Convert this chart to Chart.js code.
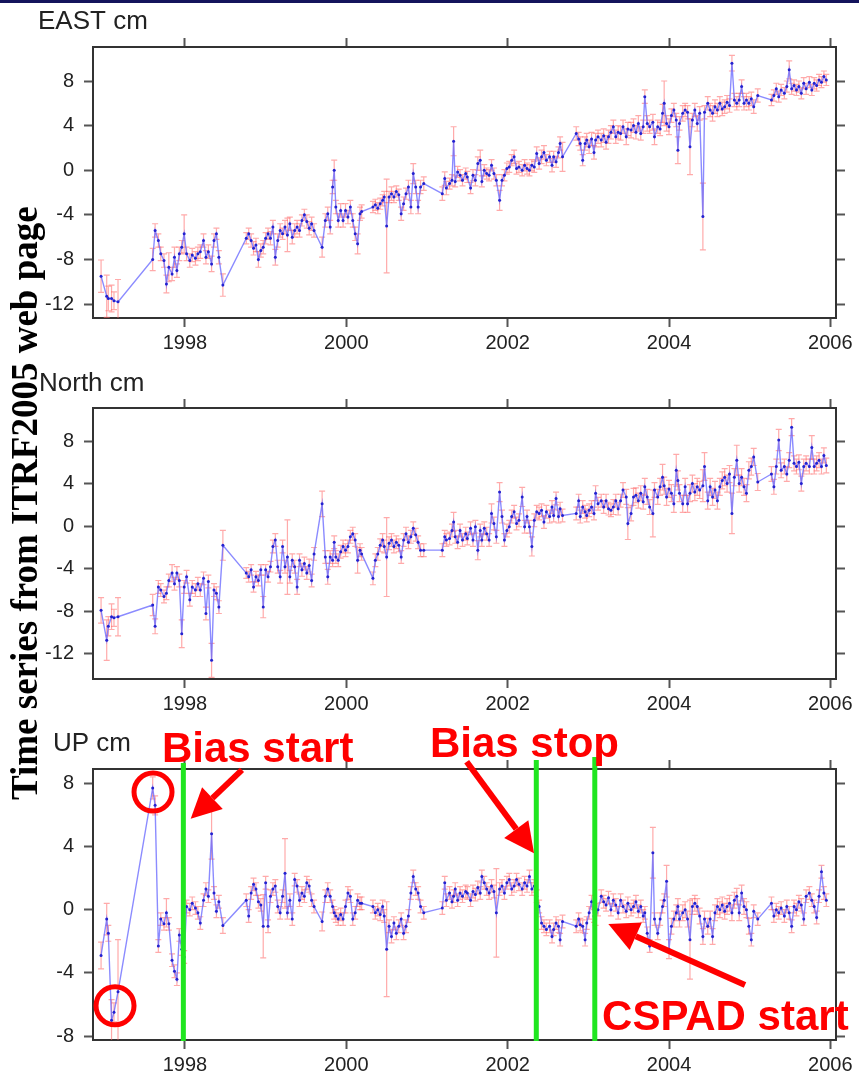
<!DOCTYPE html>
<html>
<head>
<meta charset="utf-8">
<title>ITRF2005 time series</title>
<script src="https://cdn.jsdelivr.net/npm/chart.js@4.4.1/dist/chart.umd.min.js"></script>
<style>
  html, body { margin: 0; padding: 0; background: #fff; }
  #page { position: relative; width: 859px; height: 1079px; overflow: hidden; background: #fff; }
  #page canvas { position: absolute; left: 0; }
  #topRule { position: absolute; left: 0; top: 0; width: 859px; height: 3px; background: #14145c; }
  #sideTitle {
    position: absolute; left: 6px; top: 800px;
    transform: rotate(-90deg); transform-origin: left top;
    white-space: nowrap; color: #000;
    font: bold 37px "Liberation Serif", "Times New Roman", serif; line-height: 37px;
  }
</style>
</head>
<body>
<div id="page">
  <canvas id="eastChart" width="859" height="360" style="top:0"></canvas>
  <canvas id="northChart" width="859" height="360" style="top:360px"></canvas>
  <canvas id="upChart" width="859" height="359" style="top:720px"></canvas>
  <div id="topRule"></div>
  <div id="sideTitle">Time series from ITRF2005 web page</div>
</div>
<script>
// epochs (decimal year), one line per data segment
const epochs = [
    1996.96, 1997.03, 1997.05, 1997.09, 1997.12, 1997.17,
    1997.60, 1997.63, 1997.67, 1997.70, 1997.74, 1997.77, 1997.80, 1997.84, 1997.87, 1997.90, 1997.93, 1997.96, 1997.99, 1998.02, 1998.06, 1998.09, 1998.13, 1998.16, 1998.19, 1998.23, 1998.26, 1998.29, 1998.33, 1998.36, 1998.39, 1998.42, 1998.47,
    1998.76, 1998.79, 1998.82, 1998.85, 1998.88, 1998.91, 1998.94, 1998.97,
    1999.00, 1999.03, 1999.06, 1999.09, 1999.12, 1999.15, 1999.18, 1999.21, 1999.24, 1999.27, 1999.30, 1999.33, 1999.36, 1999.39, 1999.42, 1999.45, 1999.48, 1999.51, 1999.54, 1999.57, 1999.60,
    1999.70, 1999.74, 1999.77, 1999.80, 1999.83, 1999.85, 1999.87, 1999.90, 1999.93, 1999.96, 1999.99,
    2000.02, 2000.05, 2000.08, 2000.11, 2000.14, 2000.17, 2000.19,
    2000.33, 2000.36, 2000.39, 2000.42, 2000.45, 2000.47, 2000.50, 2000.53, 2000.56, 2000.59, 2000.62, 2000.65, 2000.68, 2000.71, 2000.74, 2000.77, 2000.80, 2000.83, 2000.86, 2000.89, 2000.92, 2000.96,
    2001.19, 2001.22, 2001.24, 2001.28, 2001.31, 2001.33, 2001.35, 2001.38, 2001.41, 2001.44, 2001.48, 2001.50, 2001.54, 2001.57, 2001.60, 2001.63, 2001.66, 2001.68, 2001.71, 2001.74, 2001.77, 2001.80, 2001.83, 2001.86, 2001.90, 2001.93, 2001.96, 2001.99,
    2002.02, 2002.05, 2002.08, 2002.11, 2002.14, 2002.18, 2002.21, 2002.24, 2002.27, 2002.30, 2002.33, 2002.36, 2002.39, 2002.42, 2002.45, 2002.48, 2002.52, 2002.55, 2002.57, 2002.60, 2002.63, 2002.65, 2002.68,
    2002.85, 2002.88, 2002.90, 2002.93, 2002.96, 2002.98,
    2003.01, 2003.04, 2003.07, 2003.09, 2003.12, 2003.16, 2003.19, 2003.22, 2003.25, 2003.28, 2003.31, 2003.34, 2003.37, 2003.40, 2003.43, 2003.47, 2003.49, 2003.53, 2003.56, 2003.59, 2003.62, 2003.65, 2003.68, 2003.70, 2003.73, 2003.76, 2003.80, 2003.82, 2003.86, 2003.89, 2003.92, 2003.94, 2003.97,
    2004.00, 2004.03, 2004.06, 2004.09, 2004.11, 2004.13, 2004.17, 2004.20, 2004.23, 2004.26, 2004.29, 2004.32, 2004.35, 2004.38, 2004.42, 2004.44, 2004.48, 2004.51, 2004.54, 2004.57, 2004.60, 2004.63, 2004.66, 2004.69, 2004.72, 2004.75, 2004.78, 2004.81, 2004.84, 2004.87, 2004.90, 2004.93, 2004.96, 2004.99,
    2005.02, 2005.05, 2005.10,
    2005.27, 2005.30, 2005.33, 2005.36, 2005.39, 2005.43, 2005.46, 2005.49, 2005.52, 2005.55, 2005.58, 2005.61, 2005.64, 2005.67, 2005.70, 2005.74, 2005.77, 2005.80, 2005.83, 2005.86, 2005.89, 2005.92, 2005.95
];

const eastCm = [
    -9.5, -11.3, -11.5, -11.5, -11.7, -11.8,
    -8.0, -5.4, -6.3, -7.5, -8.1, -10.2, -8.7, -9.3, -7.8, -9.0, -7.5, -6.9, -5.7, -7.5, -8.1, -7.6, -7.9, -7.5, -7.3, -6.3, -7.8, -7.3, -8.4, -6.3, -5.7, -7.8, -10.3,
    -6.1, -5.7, -6.3, -7.0, -6.7, -8.0, -7.2, -6.9,
    -6.1, -5.7, -6.1, -5.1, -7.8, -6.3, -5.4, -5.7, -5.1, -5.8, -4.8, -6.0, -5.4, -5.1, -5.4, -4.5, -4.0, -4.6, -5.2, -4.8, -5.4,
    -6.9, -4.5, -3.9, -5.1, -1.5, 0.0, -3.3, -4.5, -3.6, -4.5, -3.6,
    -4.2, -3.3, -4.5, -5.7, -6.6, -3.9, -3.7,
    -3.3, -3.1, -3.4, -3.0, -2.7, -2.4, -5.0, -2.4, -2.1, -2.4, -1.9, -2.2, -3.9, -3.0, -2.1, -1.5, -3.3, -0.3, -1.5, -3.3, -1.5, -1.2,
    -2.1, -0.75, -1.6, -1.2, -0.9, 2.6, -1.0, -0.15, -0.45, -0.9, -0.3, -0.6, -1.6, -0.45, -0.9, 0.6, 0.9, -1.0, 0.0, -0.3, -0.45, 0.45, -0.3, -0.9, -2.7, -0.9, -0.45, 0.15,
    0.3, 0.9, 1.2, 0.15, 0.3, 0.0, 0.45, 0.15, 0.0, 0.45, 0.3, 1.5, 0.6, 1.2, 1.6, 0.9, 1.2, 0.45, 1.2, 0.75, 1.6, 2.4, 1.2,
    3.3, 2.8, 2.4, 0.9, 2.4, 2.7,
    2.1, 2.8, 1.6, 2.7, 3.0, 2.7, 3.1, 2.5, 3.0, 3.4, 3.9, 3.0, 3.4, 3.3, 3.9, 3.0, 3.7, 3.6, 4.0, 3.4, 4.2, 3.3, 3.9, 6.6, 4.2, 3.9, 4.3, 3.0, 3.9, 3.7, 5.1, 6.0, 4.2,
    3.9, 4.9, 5.4, 4.5, 1.8, 4.2, 5.1, 5.4, 5.2, 2.1, 4.5, 5.4, 4.2, 5.1, -4.15, 5.2, 6.0, 5.4, 5.1, 5.7, 5.4, 6.0, 5.5, 5.7, 6.1, 5.8, 9.6, 6.3, 6.0, 6.3, 7.5, 6.0, 6.3, 6.0,
    6.4, 5.7, 6.7,
    6.3, 6.7, 7.3, 6.6, 7.2, 6.9, 7.5, 9.0, 7.3, 7.6, 7.2, 7.5, 6.9, 7.8, 7.3, 7.9, 7.2, 7.8, 7.6, 8.1, 7.9, 8.4, 8.1
];

const northCm = [
    -7.9, -10.7, -9.4, -8.5, -8.6, -8.5,
    -7.4, -9.4, -5.7, -6.0, -6.6, -6.3, -5.1, -4.4, -5.4, -4.4, -5.1, -10.1, -5.7, -4.75, -6.9, -5.7, -6.0, -5.4, -6.0, -4.9, -8.2, -5.2, -12.6, -6.0, -6.3, -7.6, -1.8,
    -4.4, -4.75, -4.1, -5.7, -4.75, -5.1, -4.1, -7.6,
    -4.1, -4.75, -3.8, -1.9, -1.3, -3.8, -4.75, -1.9, -3.8, -2.9, -4.75, -3.2, -3.8, -5.7, -3.2, -4.1, -3.5, -4.4, -3.7, -5.1, -2.6,
    2.1, -2.9, -4.75, -2.9, -3.2, -1.5, -2.9, -3.2, -2.4, -1.9, -2.25,
    -1.9, -1.0, -0.7, -1.3, -3.2, -2.25, -2.6,
    -4.9, -3.2, -2.6, -1.8, -1.3, -1.9, -2.9, -1.6, -1.3, -1.9, -1.5, -1.8, -2.9, -1.3, -0.7, -1.5, -1.0, -0.2, -0.8, -1.5, -2.25, -2.25,
    -2.25, -1.0, -1.3, -1.15, -0.4, 0.4, -1.0, -1.5, -0.4, -1.3, -0.7, -1.15, -0.2, -1.3, -0.05, -2.25, -0.4, -1.3, -0.2, -0.7, -1.3, 1.2, 0.25, -1.0, 3.2, 0.9, -1.3, -0.4,
    -0.05, 0.9, 1.35, 0.25, 0.55, 2.75, -0.05, 0.9, -0.05, -1.9, 0.55, 1.35, 1.2, 1.5, 0.4, 1.35, 0.9, 1.8, 1.0, 2.6, 0.9, 1.65, 1.0,
    1.2, 2.4, 0.9, 1.8, 1.35, 1.0,
    1.5, 1.8, 1.2, 3.1, 2.1, 2.4, 1.8, 2.4, 1.65, 1.5, 1.8, 2.4, 1.65, 2.4, 3.4, 2.75, 0.25, 1.2, 2.75, 2.9, 2.4, 3.1, 2.3, 3.7, 2.75, 1.8, 1.2, 3.4, 2.75, 3.7, 4.6, 3.8, 2.75,
    3.5, 3.1, 2.1, 5.25, 4.3, 3.1, 2.1, 3.7, 2.1, 3.1, 4.0, 3.2, 3.7, 3.4, 3.8, 5.6, 2.4, 3.7, 2.75, 3.4, 2.4, 3.7, 4.3, 4.6, 4.0, 4.9, 1.2, 4.6, 6.2, 4.0, 4.6, 3.7, 3.1, 5.25,
    5.6, 6.5, 4.15,
    4.9, 3.7, 5.6, 8.1, 5.25, 5.6, 4.9, 6.2, 9.3, 5.9, 5.6, 6.0, 4.0, 5.6, 5.9, 5.6, 7.4, 5.6, 5.9, 6.2, 5.6, 6.65, 5.7
];

const upCm = [
    -2.9, -0.6, -1.5, -7.0, -6.5, -5.2,
    7.7, 6.6, -2.3, -0.6, -0.9, -0.2, -0.9, -3.2, -3.9, -4.4, -1.6, -2.5, -3.0, 0.2, 0.0, 0.4, 0.1, -0.2, -0.85, 0.6, 1.3, 0.85, 4.8, 1.05, -0.1, 0.5, -1.0,
    0.6, -0.4, 1.05, 1.6, 1.3, 0.5, 0.3, -1.05,
    1.7, -1.05, 0.85, 1.3, 1.5, 0.2, -0.2, 0.85, 2.3, -0.2, 0.6, -0.6, 1.9, 1.5, 0.6, 1.05, 0.85, 1.7, 1.5, 0.6, 0.2,
    -0.75, 0.85, 1.3, 0.85, 0.2, -0.2, -0.4, -0.6, -0.3, -0.6, 0.2,
    1.05, 0.85, -0.6, -0.2, 0.6, 0.4, 0.4,
    0.2, -0.2, 0.0, -0.3, 0.2, -0.4, -2.5, -1.05, -1.7, -0.85, -1.5, -1.05, -0.6, -1.5, -1.05, -0.4, 1.05, 2.1, 1.3, 1.05, 0.2, -0.2,
    0.1, 1.7, 0.6, 1.05, 0.5, 0.85, 1.3, 0.6, 1.05, 0.85, 1.15, 1.05, 0.6, 1.15, 0.95, 1.4, 1.05, 2.1, 1.7, 1.3, 1.05, 1.5, 1.15, -0.2, 1.3, 1.5, 1.05, 1.7,
    1.9, 1.3, 1.5, 1.9, 1.6, 1.3, 1.7, 1.5, 2.1, 1.3, 1.5, 0.85, 0.2, -0.85, -1.05, -1.25, -1.05, -1.7, -1.25, -0.85, -1.05, -1.9, -0.75,
    -1.05, -0.6, -0.95, -1.05, -1.9, -0.85,
    -0.2, 0.5, -0.4, -0.6, 0.0, 0.85, 0.5, 0.3, 0.75, 0.0, 0.6, 0.3, -0.2, 0.6, 0.2, -0.1, 0.4, 0.0, 0.2, 0.5, -0.1, 0.2, -0.4, -0.2, -1.5, -2.3, 3.6, -0.6, -1.5, -0.6, 0.2, 0.6, 1.8,
    -2.5, -1.05, -0.6, -0.2, 0.2, -0.6, -0.2, 0.0, -0.6, -1.9, 0.2, 0.4, 0.2, -0.4, -1.7, -0.6, -1.05, -0.6, -1.7, -0.2, 0.2, 0.0, 0.3, -0.1, 0.2, 0.4, -0.2, 0.6, 0.85, -0.2, 1.05, 0.2, 0.0, -1.05,
    -1.9, -0.1, -0.6,
    0.4, -0.4, 0.0, -0.2, 0.1, -0.4, 0.2, -0.2, -1.05, 0.2, 0.0, 0.5, 0.3, -0.6, 0.85, 1.05, 0.6, 0.2, -0.5, 0.85, 2.4, 1.05, 0.6
];

// one-sigma error bars (cm)
const eastSig = [
    1.45, 1.9, 1.1, 1.2, 0.8, 2.0,
    1.0, 0.6, 0.6, 0.6, 0.6, 0.8, 1.3, 0.6, 0.9, 0.6, 0.6, 0.6, 1.7, 0.6, 0.6, 0.6, 0.6, 0.6, 0.6, 0.6, 0.6, 0.6, 0.7, 0.6, 0.5, 0.6, 1.0,
    0.5, 0.5, 0.6, 0.6, 0.6, 0.7, 0.6, 0.6,
    0.5, 0.5, 0.6, 0.6, 0.7, 0.6, 0.6, 0.5, 0.6, 1.5, 0.6, 0.6, 0.6, 0.6, 0.6, 0.5, 0.5, 0.6, 0.6, 0.6, 0.6,
    0.9, 0.6, 0.6, 0.6, 0.6, 0.9, 0.6, 0.6, 0.6, 0.6, 0.6,
    0.6, 0.6, 0.6, 0.6, 0.9, 0.6, 0.6,
    0.5, 0.5, 0.5, 0.5, 0.5, 0.5, 4.2, 0.5, 0.6, 0.5, 0.5, 0.5, 0.6, 0.6, 0.5, 0.6, 0.6, 0.9, 0.6, 0.6, 0.6, 0.6,
    0.6, 0.6, 0.6, 0.5, 0.5, 1.3, 0.5, 0.5, 0.5, 0.5, 0.5, 0.5, 0.5, 0.5, 0.5, 0.6, 0.9, 0.5, 0.5, 0.5, 0.5, 0.5, 0.5, 0.5, 0.9, 0.5, 0.5, 0.5,
    0.5, 0.5, 0.6, 0.5, 0.5, 0.5, 0.5, 0.5, 0.5, 0.5, 0.5, 0.6, 0.5, 0.6, 0.6, 0.5, 0.5, 0.6, 0.5, 0.5, 0.5, 0.6, 1.3,
    0.6, 0.6, 0.6, 0.5, 0.6, 0.6,
    0.6, 0.6, 0.6, 0.6, 0.6, 0.6, 0.6, 0.6, 0.6, 0.6, 0.6, 0.6, 0.6, 0.6, 0.6, 0.7, 0.6, 0.7, 0.6, 0.6, 0.7, 0.6, 0.6, 0.6, 0.7, 0.6, 0.7, 0.7, 0.6, 0.6, 0.8, 2.0, 0.7,
    0.7, 0.6, 0.6, 0.6, 1.2, 0.6, 0.7, 0.6, 0.6, 2.5, 0.6, 0.6, 0.7, 0.6, 3.0, 0.6, 0.6, 0.6, 0.7, 0.6, 0.6, 0.6, 0.6, 0.6, 0.6, 0.6, 0.7, 0.6, 0.6, 0.6, 0.6, 0.6, 0.6, 0.6,
    0.6, 0.6, 0.6,
    0.5, 0.5, 0.5, 0.5, 0.5, 0.5, 0.5, 0.8, 0.5, 0.5, 0.5, 0.5, 0.5, 0.5, 0.5, 0.5, 0.5, 0.5, 0.5, 0.5, 0.5, 0.5, 0.5
];

const northSig = [
    1.2, 1.9, 0.9, 1.2, 0.8, 1.8,
    1.0, 0.7, 0.6, 0.6, 0.6, 0.6, 0.6, 0.8, 0.6, 0.6, 0.6, 1.3, 0.6, 0.6, 0.6, 0.6, 0.6, 0.6, 0.6, 0.6, 0.6, 0.6, 1.6, 0.6, 0.6, 0.6, 1.4,
    0.5, 0.5, 0.5, 0.5, 0.5, 0.5, 0.5, 1.0,
    0.5, 0.5, 0.5, 0.6, 0.6, 0.6, 0.6, 0.6, 0.6, 3.5, 0.6, 0.6, 0.6, 0.7, 0.6, 0.6, 0.6, 0.6, 0.6, 0.6, 0.6,
    1.2, 0.6, 0.7, 0.6, 0.6, 0.6, 0.6, 0.6, 0.6, 0.6, 0.6,
    0.6, 0.6, 0.6, 0.6, 1.2, 0.6, 0.6,
    0.6, 0.6, 0.6, 0.6, 0.6, 0.6, 3.7, 0.6, 0.6, 0.6, 0.6, 0.6, 0.6, 0.6, 0.6, 0.6, 0.6, 0.6, 0.6, 0.6, 0.6, 0.6,
    0.6, 0.6, 0.6, 0.6, 0.6, 0.9, 0.6, 0.6, 0.6, 0.6, 0.6, 0.6, 0.6, 0.6, 0.6, 0.9, 0.6, 0.6, 0.6, 0.6, 0.6, 0.9, 0.6, 0.6, 0.9, 0.6, 0.6, 0.6,
    0.6, 0.6, 0.6, 0.6, 0.6, 0.9, 0.6, 0.6, 0.6, 0.9, 0.6, 0.6, 0.6, 0.6, 0.6, 0.6, 0.6, 0.6, 0.6, 0.6, 0.6, 0.6, 0.6,
    0.6, 0.6, 0.6, 0.6, 0.6, 0.6,
    0.6, 0.6, 0.6, 0.7, 0.6, 0.6, 0.6, 0.6, 0.6, 0.6, 0.7, 0.6, 0.6, 0.6, 0.7, 0.7, 1.5, 0.7, 0.8, 0.7, 0.7, 0.7, 0.7, 0.8, 0.7, 0.7, 2.2, 0.7, 0.7, 0.8, 1.2, 0.8, 0.8,
    0.8, 0.8, 0.8, 1.5, 0.9, 0.8, 0.8, 0.8, 0.8, 0.8, 0.8, 0.8, 0.8, 0.8, 1.5, 1.3, 0.8, 0.8, 0.8, 0.8, 0.8, 0.8, 0.8, 0.8, 0.8, 0.8, 1.9, 0.8, 1.4, 0.8, 0.8, 0.8, 0.8, 0.8,
    0.8, 0.8, 0.8,
    0.7, 0.7, 0.7, 1.0, 0.7, 0.7, 0.7, 0.7, 0.8, 0.7, 0.7, 0.7, 0.7, 0.7, 0.7, 0.7, 1.1, 0.7, 0.7, 0.7, 0.7, 0.7, 0.7
];

const upSig = [
    0.85, 1.0, 0.5, 1.3, 0.6, 3.3,
    0.7, 0.6, 0.4, 0.4, 0.4, 0.9, 0.4, 0.4, 0.4, 0.4, 0.4, 0.4, 0.4, 0.4, 0.4, 0.4, 0.4, 0.4, 0.4, 0.4, 0.4, 0.4, 1.6, 0.4, 0.4, 0.4, 0.5,
    0.4, 0.4, 0.4, 0.4, 0.4, 0.4, 0.4, 2.0,
    0.4, 0.4, 0.4, 0.4, 0.4, 0.4, 0.4, 0.4, 2.2, 0.4, 0.4, 0.4, 0.4, 0.4, 0.4, 0.4, 0.4, 0.4, 0.4, 0.4, 0.4,
    0.6, 0.4, 0.4, 0.4, 0.4, 0.4, 0.4, 0.4, 0.4, 0.4, 0.4,
    0.4, 0.4, 0.4, 0.4, 0.4, 0.4, 0.4,
    0.4, 0.4, 0.4, 0.4, 0.4, 0.4, 3.0, 0.4, 0.4, 0.4, 0.4, 0.4, 0.4, 0.4, 0.4, 0.4, 0.4, 0.4, 0.4, 0.4, 0.4, 0.4,
    0.4, 0.4, 0.4, 0.4, 0.4, 0.4, 0.4, 0.4, 0.4, 0.4, 0.4, 0.4, 0.4, 0.4, 0.4, 0.4, 0.4, 0.4, 0.4, 0.4, 0.4, 0.4, 0.4, 2.8, 0.4, 0.4, 0.4, 0.4,
    0.4, 0.4, 0.4, 0.4, 0.4, 0.4, 0.4, 0.4, 0.4, 0.4, 0.4, 0.4, 0.4, 0.4, 0.4, 0.4, 0.4, 0.4, 0.4, 0.4, 0.4, 0.4, 0.4,
    0.4, 0.4, 0.4, 0.4, 0.4, 0.4,
    0.4, 0.4, 0.4, 0.4, 0.4, 0.4, 0.4, 0.4, 0.4, 0.4, 0.4, 0.4, 0.4, 0.4, 0.4, 0.4, 0.4, 0.4, 0.4, 0.4, 0.4, 0.4, 0.4, 0.4, 0.4, 0.4, 1.6, 0.4, 0.4, 0.4, 0.4, 0.4, 1.0,
    0.6, 0.5, 0.5, 0.5, 0.5, 0.5, 0.5, 0.5, 0.5, 2.5, 0.5, 0.5, 0.5, 0.5, 0.5, 0.5, 0.5, 0.5, 0.5, 0.5, 0.5, 0.5, 0.5, 0.5, 0.5, 0.5, 0.5, 0.5, 0.5, 0.5, 0.5, 0.5, 0.5, 0.5,
    0.4, 0.4, 0.4,
    0.4, 0.4, 0.4, 0.4, 0.4, 0.4, 0.4, 0.4, 0.4, 0.4, 0.4, 0.4, 0.4, 0.4, 0.4, 0.4, 0.4, 0.4, 0.4, 0.4, 0.4, 0.4, 0.4
];

const yearTicks = [1998, 2000, 2002, 2004, 2006];
const eastTicks = [-12, -8, -4, 0, 4, 8];
const northTicks = [-12, -8, -4, 0, 4, 8];
const upTicks = [-8, -4, 0, 4, 8];

// annotations on the UP panel, in (year, cm)
const markerYears = [1997.98, 2002.355, 2003.08];
const labelTexts = ['Bias start', 'Bias stop', 'CSPAD start'];
const labelAt = [[1997.715, 9.34], [2001.037, 9.66], [2003.17, -7.62]];
const arrowFrom = [[1998.707, 8.84], [2001.492, 9.36], [2004.942, -4.77]];
const arrowTo = [[1998.071, 5.75], [2002.327, 3.57], [2003.248, -0.91]];
const circleAt = [[1997.604, 7.44], [1997.133, -6.08]];

[eastCm, northCm, upCm, eastSig, northSig, upSig].forEach((a, i) => {
    if (a.length !== epochs.length) console.error('length mismatch', i, a.length, epochs.length);
});

const xMin = 1996.86;
const xMax = 2006.07;
const plotLeft = 93;
const plotRight = 836;
const sansFont = '"Liberation Sans", Arial, Helvetica, sans-serif';

const errorBars = {
    id: 'errorBars',
    beforeDatasetsDraw(chart) {
        const { ctx, chartArea, scales } = chart;
        const ds = chart.data.datasets[0];
        ctx.save();
        ctx.beginPath();
        ctx.rect(chartArea.left, chartArea.top, chartArea.right - chartArea.left, chartArea.bottom - chartArea.top);
        ctx.clip();
        ctx.strokeStyle = 'rgba(255, 100, 100, 0.55)';
        ctx.lineWidth = 1.2;
        ds.data.forEach((p, i) => {
            const s = ds.errors[i];
            const px = scales.x.getPixelForValue(p.x);
            const top = scales.y.getPixelForValue(p.y + s);
            const bot = scales.y.getPixelForValue(p.y - s);
            ctx.beginPath();
            ctx.moveTo(px, top); ctx.lineTo(px, bot);
            ctx.moveTo(px - 3, top); ctx.lineTo(px + 3, top);
            ctx.moveTo(px - 3, bot); ctx.lineTo(px + 3, bot);
            ctx.stroke();
        });
        ctx.restore();
    }
};

const panelTitle = {
    id: 'panelTitle',
    afterDraw(chart, args, opts) {
        const ctx = chart.ctx;
        ctx.save();
        ctx.font = '26px ' + sansFont;
        ctx.fillStyle = '#222';
        ctx.textBaseline = 'alphabetic';
        ctx.textAlign = 'left';
        ctx.fillText(opts.text, opts.x, opts.y);
        ctx.restore();
    }
};

const drawArrow = (ctx, x0, y0, x1, y1) => {
    const ang = Math.atan2(y1 - y0, x1 - x0);
    const head = 30, half = 15;
    const bx = x1 - head * Math.cos(ang);
    const by = y1 - head * Math.sin(ang);
    ctx.lineWidth = 6;
    ctx.beginPath();
    ctx.moveTo(x0, y0);
    ctx.lineTo(bx, by);
    ctx.stroke();
    ctx.beginPath();
    ctx.moveTo(x1, y1);
    ctx.lineTo(bx + half * Math.sin(ang), by - half * Math.cos(ang));
    ctx.lineTo(bx - half * Math.sin(ang), by + half * Math.cos(ang));
    ctx.closePath();
    ctx.fill();
};

const upAnnotations = {
    id: 'upAnnotations',
    afterDraw(chart) {
        const { ctx, chartArea, scales: { x, y } } = chart;
        const rise = [6, 9, 12];
        ctx.save();
        ctx.strokeStyle = '#1fe61f';
        ctx.lineWidth = 5;
        markerYears.forEach((yr, i) => {
            const px = x.getPixelForValue(yr);
            ctx.beginPath();
            ctx.moveTo(px, chartArea.top - rise[i]);
            ctx.lineTo(px, chartArea.bottom + 1);
            ctx.stroke();
        });
        ctx.strokeStyle = '#ff0000';
        ctx.fillStyle = '#ff0000';
        ctx.lineWidth = 5;
        circleAt.forEach(([yr, cm]) => {
            ctx.beginPath();
            ctx.arc(x.getPixelForValue(yr), y.getPixelForValue(cm), 19, 0, Math.PI * 2);
            ctx.stroke();
        });
        arrowFrom.forEach((from, i) => {
            drawArrow(ctx,
                x.getPixelForValue(from[0]), y.getPixelForValue(from[1]),
                x.getPixelForValue(arrowTo[i][0]), y.getPixelForValue(arrowTo[i][1]));
        });
        ctx.font = 'bold 42px ' + sansFont;
        ctx.textBaseline = 'alphabetic';
        ctx.textAlign = 'left';
        labelTexts.forEach((t, i) => {
            ctx.fillText(t, x.getPixelForValue(labelAt[i][0]), y.getPixelForValue(labelAt[i][1]));
        });
        ctx.restore();
    }
};

const tickMarks = () => ({ drawOnChartArea: false, drawTicks: true, tickLength: 9, tickWidth: 2, tickColor: '#555' });
const frameEdge = () => ({ display: true, color: '#333', width: 2 });
const fixedTicks = (list) => (scale) => { scale.ticks = list.map(v => ({ value: v })); };

const makePanel = (canvasId, values, errors, yMin, yMax, yTicks, areaTop, areaBottom, title, titleX, titleY, extra = []) => {
    const canvas = document.getElementById(canvasId);
    const tickFont = { family: sansFont, size: 20 };
    return new Chart(canvas, {
        type: 'line',
        data: {
            datasets: [{
                data: epochs.map((t, i) => ({ x: t, y: values[i] })),
                errors: errors,
                borderColor: 'rgba(100, 100, 255, 0.75)',
                borderWidth: 1.4,
                pointRadius: 1.5,
                pointBackgroundColor: '#2222d0',
                pointBorderWidth: 0,
                tension: 0
            }]
        },
        options: {
            responsive: false,
            animation: false,
            devicePixelRatio: 1,
            layout: { padding: 0 },
            plugins: {
                legend: { display: false },
                tooltip: { enabled: false },
                panelTitle: { text: title, x: titleX, y: titleY }
            },
            scales: {
                x: {
                    type: 'linear', position: 'bottom', min: xMin, max: xMax,
                    afterBuildTicks: fixedTicks(yearTicks),
                    afterFit: s => { s.height = canvas.height - areaBottom; },
                    grid: tickMarks(), border: frameEdge(),
                    ticks: { font: tickFont, color: '#222', padding: 4, maxRotation: 0, autoSkip: false, callback: v => String(v) }
                },
                x2: {
                    type: 'linear', position: 'top', min: xMin, max: xMax,
                    afterBuildTicks: fixedTicks(yearTicks),
                    afterFit: s => { s.height = areaTop; },
                    grid: tickMarks(), border: frameEdge(),
                    ticks: { font: tickFont, maxRotation: 0, autoSkip: false, callback: () => '' }
                },
                y: {
                    type: 'linear', position: 'left', min: yMin, max: yMax,
                    afterBuildTicks: fixedTicks(yTicks),
                    afterFit: s => { s.width = plotLeft; },
                    grid: tickMarks(), border: frameEdge(),
                    ticks: { font: tickFont, color: '#222', padding: 10, autoSkip: false, callback: v => String(v) }
                },
                y2: {
                    type: 'linear', position: 'right', min: yMin, max: yMax,
                    afterBuildTicks: fixedTicks(yTicks),
                    afterFit: s => { s.width = canvas.width - plotRight; },
                    grid: tickMarks(), border: frameEdge(),
                    ticks: { font: tickFont, autoSkip: false, callback: () => '' }
                }
            }
        },
        plugins: [errorBars, panelTitle, ...extra]
    });
};

makePanel('eastChart', eastCm, eastSig, -13.25, 11.05, eastTicks, 47, 318, 'EAST cm', 38, 29);
makePanel('northChart', northCm, northSig, -14.35, 11.1, northTicks, 48, 319, 'North cm', 39, 31);
makePanel('upChart', upCm, upSig, -8.25, 8.9, upTicks, 49, 320, 'UP cm', 53, 31, [upAnnotations]);
</script>
</body>
</html>
